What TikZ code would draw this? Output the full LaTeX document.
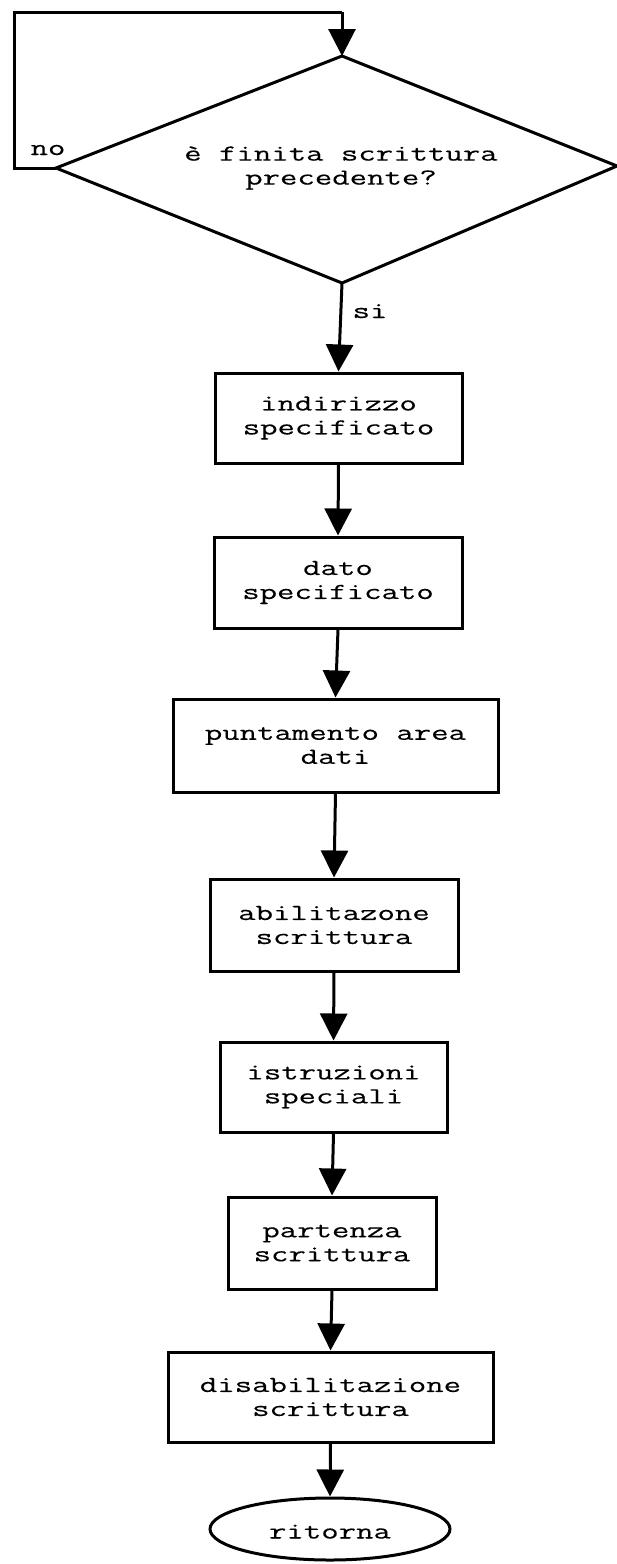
\documentclass[tikz,border=0pt]{standalone}
\usepackage{fontspec}
\usetikzlibrary{arrows.meta,shapes.geometric}
\newfontfamily\chartfont{Latin Modern Mono}[FakeStretch=1.47,FakeBold=0.25]

\tikzset{
  chart/.style={font=\chartfont\fontsize{23}{24}\selectfont},
  stepbox/.style={chart, draw, line width=3pt, rectangle, align=center,
                  inner sep=0pt, minimum width=#1},
  flow/.style={draw, line width=3pt, -{Triangle[length=27pt,width=27pt]}},
  tag/.style={chart, anchor=base, inner sep=0pt}
}

\begin{document}
\begin{tikzpicture}[x=1pt,y=-1pt]
  \useasboundingbox[fill=white] (0,0) rectangle (617,1564);

  % decision diamond
  \coordinate (dTop)    at (342,56);
  \coordinate (dLeft)   at (56,168);
  \coordinate (dRight)  at (617,166);
  \coordinate (dBottom) at (342,283);
  \draw[line width=3pt, line join=miter] (dTop) -- (dRight) -- (dBottom) -- (dLeft) -- cycle;
  \node[chart, align=center, inner sep=0pt] (question) at (341,168)
       {è finita scrittura\\precedente?};

  % "no" loop back to the top of the decision
  \coordinate (loopLow)  at (14,168);
  \coordinate (loopHigh) at (14,12);
  \coordinate (loopTop)  at (342,12);
  \draw[line width=3pt, line join=miter] (dLeft) -- (loopLow) -- (loopHigh) -- (loopTop);
  \draw[flow] (loopTop) -- (dTop);
  \node[tag] (noLabel) at (48,155) {no};

  % process steps
  \node[stepbox=247pt, minimum height=90pt] (addr)  at (338.5,418)  {indirizzo\\specificato};
  \node[stepbox=248pt, minimum height=91pt] (data)  at (338,582.5)  {dato\\specificato};
  \node[stepbox=325pt, minimum height=93pt] (point) at (335.5,745.5){puntamento area\\dati};
  \node[stepbox=248pt, minimum height=92pt] (enable) at (334,925)   {abilitazone\\scrittura};
  \node[stepbox=227pt, minimum height=90pt] (instr) at (333.5,1087) {istruzioni\\speciali};
  \node[stepbox=208pt, minimum height=92pt] (start) at (332,1243)   {partenza\\scrittura};
  \node[stepbox=325pt, minimum height=90pt] (disable) at (330.5,1397){disabilitazione\\scrittura};
  \node[chart, draw, line width=3pt, ellipse, inner sep=0pt,
        text height=19pt, text depth=0pt,
        minimum width=240pt, minimum height=62pt] (ret) at (330,1529) {ritorna};

  % connectors
  \draw[flow] (dBottom) -- (addr.north);
  \node[tag] (siLabel) at (370,318) {si};
  \draw[flow] (addr.south)    -- (data.north);
  \draw[flow] (data.south)    -- (point.north);
  \draw[flow] (point.south)   -- (enable.north);
  \draw[flow] (enable.south)  -- (instr.north);
  \draw[flow] (instr.south)   -- (start.north);
  \draw[flow] (start.south)   -- (disable.north);
  \draw[flow] (disable.south) -- (ret.north);
\end{tikzpicture}
\end{document}
